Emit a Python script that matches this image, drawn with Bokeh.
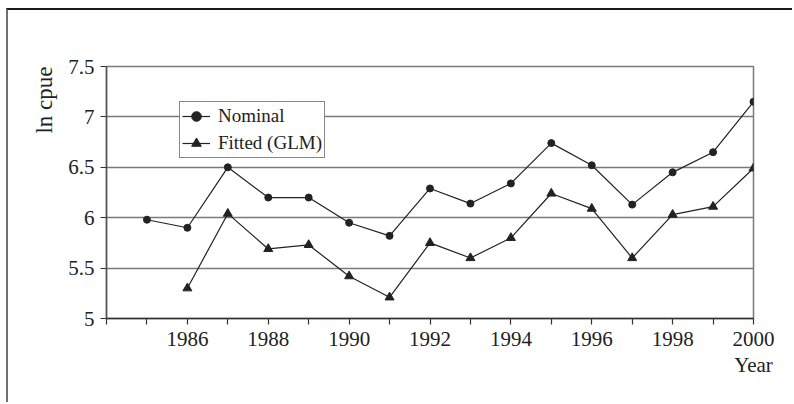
from bokeh.plotting import figure
from bokeh.models import FixedTicker, Legend, LegendItem, Range1d, Title
from bokeh.embed import file_html
from bokeh.resources import INLINE

# ---- data ----
years = [1985, 1986, 1987, 1988, 1989, 1990, 1991, 1992, 1993, 1994,
         1995, 1996, 1997, 1998, 1999, 2000]
nominal = [5.98, 5.90, 6.50, 6.20, 6.20, 5.95, 5.82, 6.29, 6.14, 6.34,
           6.74, 6.52, 6.13, 6.45, 6.65, 7.15]
fitted_years = [1986, 1987, 1988, 1989, 1990, 1991, 1992, 1993, 1994,
                1995, 1996, 1997, 1998, 1999, 2000]
fitted = [5.30, 6.04, 5.69, 5.73, 5.42, 5.21, 5.75, 5.60, 5.80,
          6.24, 6.09, 5.60, 6.03, 6.11, 6.49]
x_ticks = [1984, 1985, 1986, 1987, 1988, 1989, 1990, 1991, 1992, 1993,
           1994, 1995, 1996, 1997, 1998, 1999, 2000]
x_tick_labels = ["", "", "1986", "", "1988", "", "1990", "", "1992", "",
                 "1994", "", "1996", "", "1998", "", "2000"]
y_ticks = [5, 5.5, 6, 6.5, 7, 7.5]
y_tick_labels = ["5", "5.5", "6", "6.5", "7", "7.5"]
series_names = ["Nominal", "Fitted (GLM)"]
y_title = "ln cpue"
x_title = "Year"

FONT = "Liberation Serif"
INK = "#222222"
GRID = "#7a7a7a"

p = figure(width=786, height=394, output_backend="svg", toolbar_location=None,
           x_range=Range1d(1984, 2000), y_range=Range1d(5, 7.5),
           min_border_left=98, min_border_right=41, min_border_top=56,
           min_border_bottom=86)
p.styles = {"border-top": "2px solid #1a1a1a", "border-left": "2px solid #707070",
            "margin-left": "6px", "margin-top": "8px"}

p.background_fill_color = "white"
p.border_fill_color = "white"
p.outline_line_color = GRID
p.outline_line_width = 1.5

p.xgrid.visible = False
p.ygrid.ticker = FixedTicker(ticks=y_ticks)
p.ygrid.grid_line_color = GRID
p.ygrid.grid_line_width = 1.5

p.xaxis.ticker = FixedTicker(ticks=x_ticks)
p.xaxis.major_label_overrides = {t: l for t, l in zip(x_ticks, x_tick_labels)}
p.yaxis.ticker = FixedTicker(ticks=y_ticks)
p.yaxis.major_label_overrides = {t: l for t, l in zip(y_ticks, y_tick_labels)}

for ax in (p.xaxis, p.yaxis):
    ax.minor_tick_line_color = None
    ax.major_tick_in = 0
    ax.major_tick_out = 6
    ax.major_tick_line_color = "#333333"
    ax.major_tick_line_width = 1.2
    ax.axis_line_width = 1.5
    ax.major_label_text_font = FONT
    ax.major_label_text_font_size = "21px"
    ax.major_label_text_color = INK
    ax.axis_label_text_font = FONT
    ax.axis_label_text_font_size = "21px"
    ax.axis_label_text_font_style = "normal"
    ax.axis_label_text_color = INK
p.xaxis.axis_line_color = "#333333"
p.yaxis.axis_line_color = "#555555"
p.xaxis.major_label_standoff = 7
p.yaxis.major_label_standoff = 6

p.xaxis.axis_label = x_title
p.xaxis.axis_label_align = "end"
p.xaxis.axis_label_standoff = 4

p.add_layout(Title(text=y_title, align="right", offset=0, standoff=18,
                   text_font=FONT, text_font_size="23px",
                   text_font_style="normal", text_color=INK), "left")

l1 = p.line(years, nominal, line_color=INK, line_width=1.2)
s1 = p.scatter(years, nominal, marker="circle", size=7, fill_color=INK, line_color=INK)
l2 = p.line(fitted_years, fitted, line_color=INK, line_width=1.2)
s2 = p.scatter(fitted_years, fitted, marker="triangle", size=9, fill_color=INK, line_color=INK)

legend = Legend(items=[LegendItem(label=series_names[0], renderers=[l1, s1]),
                       LegendItem(label=series_names[1], renderers=[l2, s2])],
                location=(73, 160))
legend.border_line_color = "#111111"
legend.border_line_width = 1.5
legend.background_fill_alpha = 1
legend.label_text_font = FONT
legend.label_text_font_size = "19px"
legend.label_text_color = INK
legend.glyph_width = 28
legend.glyph_height = 24
legend.label_height = 24
legend.label_standoff = 8
legend.spacing = 3
legend.padding = 2
legend.margin = 0
p.add_layout(legend, "center")

open("out.html", "w").write(file_html(p, INLINE))
